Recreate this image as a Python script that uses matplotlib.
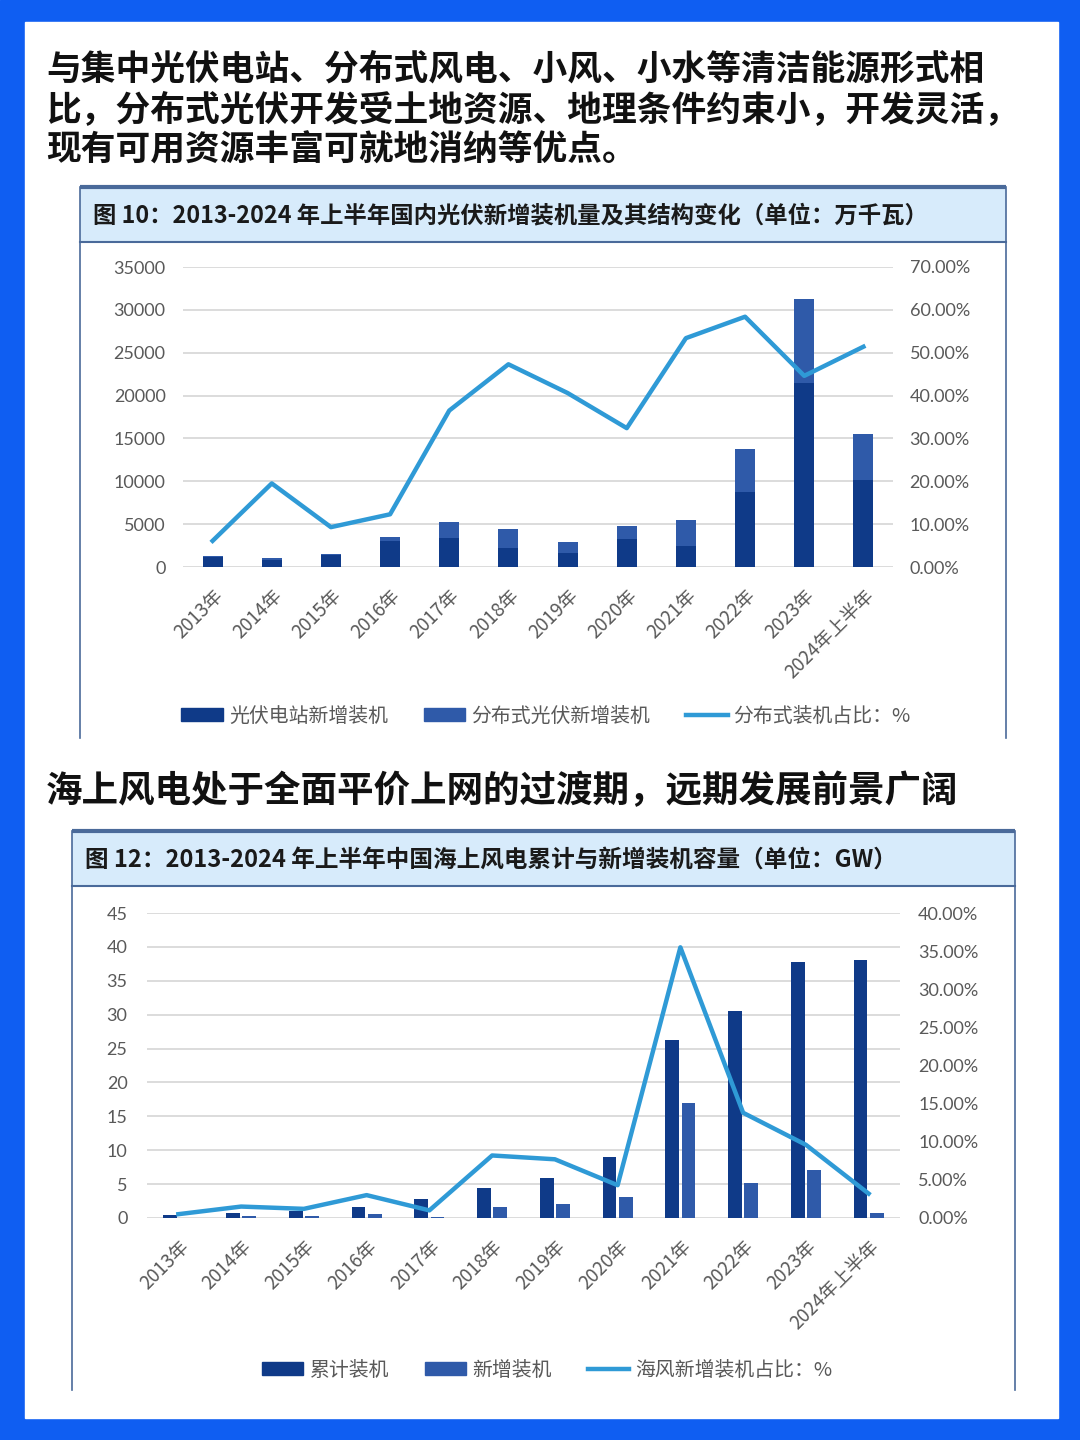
import matplotlib
matplotlib.use("Agg")
from matplotlib import pyplot as plt
from matplotlib.patches import Rectangle, Patch
from matplotlib.lines import Line2D
from matplotlib.ticker import FuncFormatter
import numpy as np

plt.rcParams['font.family'] = ['Noto Sans CJK SC', 'DejaVu Sans']

# ---- data: chart 1 (PV, 万千瓦) ----
years = ['2013年', '2014年', '2015年', '2016年', '2017年', '2018年',
         '2019年', '2020年', '2021年', '2022年', '2023年', '2024年上半年']
pv_station = [1210, 850, 1370, 3030, 3340, 2260, 1600, 3230, 2450, 8700, 21500, 10150]
pv_dist = [80, 210, 140, 420, 1950, 2140, 1350, 1550, 3030, 5100, 9730, 5330]
pv_dist_share = [0.061, 0.195, 0.093, 0.123, 0.365, 0.473, 0.406, 0.324, 0.534, 0.584, 0.446, 0.514]

# ---- data: chart 2 (offshore wind, GW) ----
wind_total = [0.45, 0.70, 1.05, 1.60, 2.80, 4.50, 5.90, 9.00, 26.3, 30.5, 37.7, 38.1]
wind_new = [0.04, 0.23, 0.36, 0.59, 0.15, 1.65, 2.00, 3.05, 16.9, 5.15, 7.1, 0.8]
wind_new_share = [0.005, 0.015, 0.012, 0.030, 0.010, 0.082, 0.077, 0.043, 0.355, 0.138, 0.096, 0.032]

DARK = '#0f3a88'
MID = '#2f5aa9'
LINE = '#2f9ad6'
GRID = '#d9d9d9'
TXT = '#595959'
BLUE = '#0f5ef2'
EDGE = '#4a6a9a'
TITLEBG = '#d7ebfb'

W, H = 1080, 1440
fig = plt.figure(figsize=(W / 100, H / 100), dpi=100)

bg = fig.add_axes([0, 0, 1, 1])
bg.set_xlim(0, W)
bg.set_ylim(H, 0)
bg.axis('off')
bg.add_patch(Rectangle((0, 0), W, H, color=BLUE))
bg.add_patch(Rectangle((25, 22), 1033, 1396, color='white'))

head1 = "与集中光伏电站、分布式风电、小风、小水等清洁能源形式相\n比，分布式光伏开发受土地资源、地理条件约束小，开发灵活，\n现有可用资源丰富可就地消纳等优点。"
bg.text(46, 110, head1, fontsize=25, fontweight='bold', color='#111111',
        va='center', ha='left', linespacing=1.2)
bg.text(46, 792, "海上风电处于全面平价上网的过渡期，远期发展前景广阔",
        fontsize=26.3, fontweight='bold', color='#111111', va='center', ha='left')


def chart_box(x0, x1, y0, y1, title_y1, title, tx, fs):
    bg.add_patch(Rectangle((x0, y0), x1 - x0, title_y1 - y0, facecolor=TITLEBG, edgecolor='none'))
    bg.plot([x0, x1], [y0, y0], color=EDGE, lw=3, solid_capstyle='butt')
    bg.plot([x0, x1], [title_y1, title_y1], color=EDGE, lw=1.5)
    bg.plot([x0, x0], [y0, y1], color=EDGE, lw=1.2)
    bg.plot([x1, x1], [y0, y1], color=EDGE, lw=1.2)
    bg.text(tx, (y0 + title_y1) / 2 + 1, title, fontsize=fs, fontweight='bold',
            color='#1a1a1a', va='center', ha='left')


chart_box(80, 1006, 187, 738, 242,
          "图 10：2013-2024 年上半年国内光伏新增装机量及其结构变化（单位：万千瓦）", 93, 16.8)
chart_box(72, 1015, 831, 1390, 886,
          "图 12：2013-2024 年上半年中国海上风电累计与新增装机容量（单位：GW）", 85, 17)


def add_axes_px(left, right, top, bottom):
    return fig.add_axes([left / W, 1 - bottom / H, (right - left) / W, (bottom - top) / H])


def style_axes(ax, ax2, lpad, rpad):
    for a in (ax, ax2):
        for s in a.spines.values():
            s.set_visible(False)
        a.patch.set_visible(False)
    ax.grid(axis='y', color=GRID, lw=1.3)
    ax.set_axisbelow(True)
    ax.tick_params(axis='y', length=0, pad=lpad, labelsize=13, labelcolor=TXT)
    ax2.tick_params(axis='y', length=0, pad=rpad, labelsize=13, labelcolor=TXT)
    ax.tick_params(axis='x', length=0, pad=13, labelsize=13.5, labelcolor=TXT)
    for lab in ax.get_yticklabels() + ax2.get_yticklabels():
        lab.set_family(['Lato', 'DejaVu Sans'])
    for lab in ax.get_xticklabels():
        lab.set_rotation(45)
        lab.set_ha('right')
        lab.set_va('top')
        lab.set_rotation_mode('anchor')


pct = FuncFormatter(lambda v, p: f"{v * 100:.2f}%")
x = np.arange(len(years))

# ---- chart 1 ----
ax1 = add_axes_px(183, 893, 267, 567)
ax1.bar(x, pv_station, width=0.34, color=DARK, zorder=2)
ax1.bar(x, pv_dist, width=0.34, bottom=pv_station, color=MID, zorder=2)
ax1.set_ylim(0, 35000)
ax1.set_yticks(np.arange(0, 35001, 5000))
ax1.set_xlim(-0.5, len(years) - 0.5)
ax1.set_xticks(x)
ax1.set_xticklabels(years)
ax1r = ax1.twinx()
ax1r.plot(x, pv_dist_share, color=LINE, lw=3.2, zorder=3)
ax1r.set_ylim(0, 0.70)
ax1r.set_yticks(np.arange(0, 0.701, 0.1))
ax1r.yaxis.set_major_formatter(pct)
style_axes(ax1, ax1r, 12.5, 12)

leg_kw = dict(loc='center', ncol=3, frameon=False, fontsize=14.3, labelcolor=TXT,
              handlelength=2.1, handleheight=0.6, handletextpad=0.3, columnspacing=1.8)
h1 = [Patch(color=DARK), Patch(color=MID), Line2D([], [], color=LINE, lw=3.2)]
fig.legend(h1, ['光伏电站新增装机', '分布式光伏新增装机', '分布式装机占比：%'],
           bbox_to_anchor=(546 / W, 1 - 716 / H), **leg_kw)

# ---- chart 2 ----
ax2 = add_axes_px(147, 900, 913, 1218)
bw = 0.22
ax2.bar(x - bw / 2 - 0.02, wind_total, width=bw, color=DARK, zorder=2)
ax2.bar(x + bw / 2 + 0.02, wind_new, width=bw, color=MID, zorder=2)
ax2.set_ylim(0, 45)
ax2.set_yticks(np.arange(0, 46, 5))
ax2.set_xlim(-0.5, len(years) - 0.5)
ax2.set_xticks(x)
ax2.set_xticklabels(years)
ax2r = ax2.twinx()
ax2r.plot(x, wind_new_share, color=LINE, lw=3.2, zorder=3)
ax2r.set_ylim(0, 0.40)
ax2r.set_yticks(np.arange(0, 0.401, 0.05))
ax2r.yaxis.set_major_formatter(pct)
style_axes(ax2, ax2r, 14, 13)

h2 = [Patch(color=DARK), Patch(color=MID), Line2D([], [], color=LINE, lw=3.2)]
fig.legend(h2, ['累计装机', '新增装机', '海风新增装机占比：%'],
           bbox_to_anchor=(547 / W, 1 - 1370 / H), **leg_kw)

fig.savefig("out.png", dpi=100)
